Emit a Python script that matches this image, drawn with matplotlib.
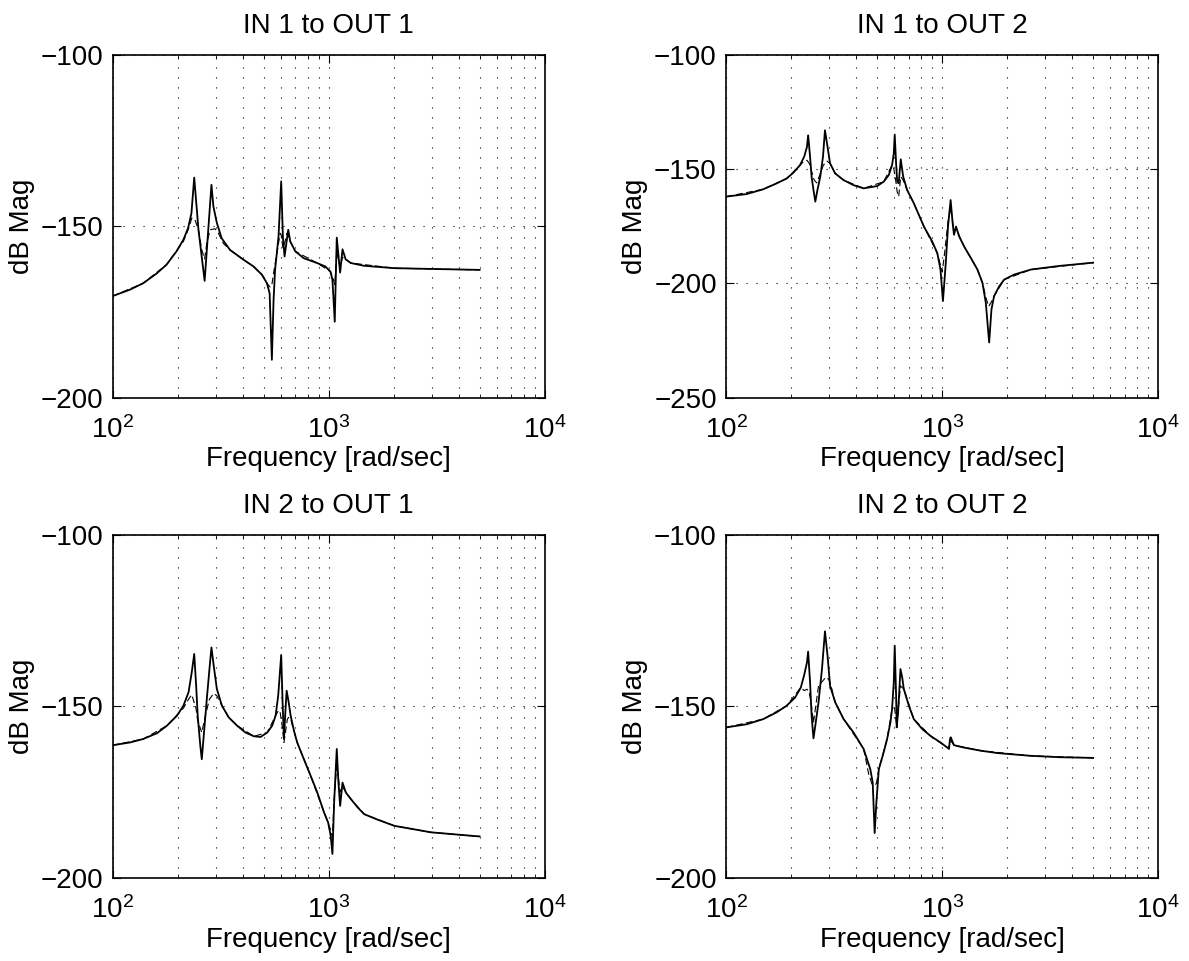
import numpy as np
import matplotlib
matplotlib.use('Agg')
import matplotlib.pyplot as plt
from matplotlib.ticker import LogLocator, NullFormatter, MultipleLocator

plt.rcParams['font.family'] = ['Liberation Sans', 'DejaVu Sans']
plt.rcParams['mathtext.fontset'] = 'custom'
plt.rcParams['mathtext.rm'] = 'Liberation Sans'

# values: frequency [rad/sec] and magnitude [dB]
# IN 1 -> OUT 1
f11 = [100, 119.5, 138, 159, 177, 197, 212, 223, 231, 238, 249, 266, 286, 292, 303, 319, 349, 404, 448, 490,
       517, 532, 545, 555, 564, 585, 602, 613, 624, 649, 663, 700, 766, 883, 964, 1018, 1040, 1066, 1089, 1129,
       1158, 1197, 1266, 1455, 2013, 3428, 5000]
m11 = [-170.3, -168.5, -166.6, -163.8, -161.2, -157.3, -153.9, -150.5, -146.2, -135.8, -151.0, -165.9, -137.9,
       -144.2, -149.0, -153.5, -156.9, -159.8, -161.7, -164.1, -166.6, -169.5, -188.9, -171.4, -162.7, -153.0,
       -136.9, -153.0, -158.8, -151.0, -154.4, -157.3, -159.3, -160.7, -161.7, -163.2, -165.6, -177.8, -153.3,
       -163.5, -156.7, -159.6, -160.7, -161.5, -162.2, -162.5, -162.7]
f11d = [100, 138, 177, 212, 223, 232, 240, 249, 258, 266, 272, 282, 297, 308, 325, 349, 404, 448, 490, 517, 535,
        545, 558, 585, 595, 602, 613, 624, 640, 663, 700, 883, 1018, 1045, 1066, 1089, 1129, 1158, 1266, 2013, 5000]
m11d = [-170.3, -166.6, -161.2, -154.4, -151.0, -147.6, -148.1, -151.0, -156.9, -159.5, -155.0, -151.0, -150.7,
        -152.0, -155.0, -156.9, -159.8, -161.7, -164.1, -166.6, -167.7, -167.0, -162.7, -155.0, -152.0, -152.5,
        -156.3, -155.0, -152.0, -154.4, -157.3, -160.7, -163.2, -165.0, -167.0, -157.5, -162.0, -159.0, -160.7,
        -162.2, -162.7]

# IN 1 -> OUT 2
f12 = [100, 124, 148, 171, 190, 204, 219, 229, 236, 239, 244, 248, 253, 258, 264, 272, 280, 286, 294, 302, 319,
       349, 388, 432, 499, 535, 565, 585, 596, 602, 611, 618, 628, 642, 659, 687, 738, 822, 898, 948, 981, 1007,
       1038, 1063, 1093, 1117, 1133, 1158, 1197, 1262, 1356, 1455, 1535, 1591, 1649, 1690, 1738, 1836, 1935,
       2152, 2576, 3500, 5000]
m12 = [-162.0, -160.9, -158.8, -156.2, -154.1, -151.6, -148.3, -144.6, -140.3, -135.2, -144.6, -153.3, -159.1,
       -164.2, -159.1, -153.3, -144.6, -133.0, -140.3, -147.5, -151.9, -154.8, -157.0, -158.4, -157.4, -155.5,
       -152.6, -148.3, -143.2, -134.9, -147.5, -155.5, -156.2, -145.7, -153.3, -159.1, -164.9, -175.1, -181.6,
       -186.7, -193.9, -207.7, -191.0, -175.1, -163.5, -173.6, -178.7, -175.1, -179.4, -183.8, -188.8, -193.9,
       -199.7, -208.4, -225.8, -211.3, -205.5, -201.2, -198.3, -196.1, -193.9, -192.3, -190.9]
f12d = [100, 148, 190, 219, 227, 236, 242, 248, 255, 262, 272, 281, 292, 302, 319, 349, 432, 535, 585, 596, 611,
        618, 628, 642, 659, 687, 738, 822, 948, 981, 1000, 1030, 1063, 1093, 1133, 1158, 1262, 1455, 1535, 1591,
        1640, 1690, 1738, 1935, 2576, 5000]
m12d = [-162.0, -158.8, -154.1, -148.3, -146.8, -146.1, -147.5, -151.0, -154.8, -156.0, -152.0, -148.3, -146.5,
        -147.5, -151.9, -154.8, -158.4, -155.5, -148.3, -149.7, -156.2, -159.9, -162.0, -153.3, -154.8, -159.1,
        -164.9, -175.1, -186.7, -192.0, -195.0, -185.0, -173.0, -167.0, -177.0, -176.0, -183.8, -193.9, -199.7,
        -206.0, -210.0, -208.0, -205.5, -198.3, -193.9, -190.9]

# IN 2 -> OUT 1
f21 = [100, 120, 138, 160, 178, 198, 212, 224, 232, 238, 243, 247, 254, 258, 265, 273, 280, 286, 293, 303, 320,
       344, 376, 411, 450, 483, 519, 547, 567, 583, 602, 611, 620, 628, 638, 652, 666, 690, 714, 767, 824, 885,
       951, 993, 1021, 1040, 1059, 1089, 1109, 1129, 1158, 1200, 1266, 1360, 1459, 1683, 2013, 2980, 5000]
m21 = [-161.3, -160.5, -159.5, -157.8, -155.6, -152.7, -149.8, -145.9, -139.9, -134.7, -144.0, -152.7, -161.5,
       -165.4, -156.6, -146.9, -139.1, -132.8, -138.1, -144.9, -149.8, -153.2, -155.6, -157.6, -158.7, -158.9,
       -157.6, -155.6, -152.7, -146.9, -135.0, -148.8, -159.5, -152.7, -145.4, -148.8, -152.7, -157.1, -160.5,
       -165.4, -170.2, -175.1, -180.9, -183.8, -187.7, -193.0, -178.0, -162.4, -172.2, -179.0, -172.2, -175.1,
       -177.0, -179.4, -181.4, -183.0, -184.8, -186.7, -187.9]
f21d = [100, 138, 178, 212, 224, 232, 243, 247, 258, 268, 280, 293, 303, 320, 344, 376, 450, 519, 567, 583, 594,
        611, 620, 643, 652, 666, 690, 714, 824, 951, 1021, 1040, 1059, 1089, 1129, 1158, 1266, 1459, 2013, 2980, 5000]
m21d = [-161.3, -159.5, -155.6, -150.5, -147.9, -146.6, -150.8, -154.2, -157.6, -152.7, -147.9, -146.2, -146.9,
        -149.8, -153.2, -155.6, -158.7, -157.6, -152.7, -151.3, -151.3, -156.6, -160.5, -153.7, -153.2, -153.7,
        -157.1, -160.5, -170.2, -180.9, -186.0, -188.0, -177.0, -167.0, -175.0, -173.5, -177.0, -181.4, -184.8,
        -186.7, -187.9]

# IN 2 -> OUT 2
f22 = [100, 124, 148, 171, 190, 208, 221, 229, 236, 239, 244, 248, 253, 258, 267, 277, 286, 294, 302, 319, 349,
       388, 432, 464, 476, 486, 495, 508, 535, 555, 575, 585, 596, 602, 611, 615, 624, 634, 640, 652, 663, 700,
       738, 808, 882, 981, 1055, 1074, 1086, 1094, 1133, 1262, 1507, 1803, 2576, 3500, 5000]
m22 = [-156.1, -155.2, -153.7, -151.7, -149.8, -147.4, -144.5, -140.9, -137.2, -134.0, -143.0, -152.7, -159.3,
       -155.6, -148.8, -139.1, -128.1, -135.2, -144.0, -148.8, -153.7, -157.6, -162.4, -168.3, -172.2, -186.9,
       -178.0, -168.3, -163.4, -159.5, -154.7, -150.8, -143.0, -132.3, -146.9, -156.1, -151.7, -144.0, -139.1,
       -141.5, -144.9, -149.8, -153.7, -156.6, -158.6, -160.5, -162.0, -162.4, -159.5, -159.0, -161.3, -162.0,
       -162.9, -163.6, -164.4, -164.8, -165.0]
f22d = [100, 148, 190, 221, 229, 236, 242, 248, 253, 267, 286, 292, 300, 308, 319, 349, 432, 456, 472, 486, 495,
        508, 555, 585, 596, 602, 615, 624, 634, 640, 663, 738, 882, 1055, 1074, 1094, 1133, 1507, 2576, 5000]
m22d = [-156.1, -153.7, -149.8, -144.5, -145.4, -145.0, -145.9, -150.0, -154.7, -144.0, -141.8, -141.5, -142.5,
        -145.0, -148.8, -153.7, -162.4, -169.7, -172.6, -172.9, -172.5, -168.3, -159.5, -150.8, -150.3, -150.8,
        -156.1, -151.3, -146.9, -144.0, -144.9, -153.7, -158.6, -162.0, -161.8, -160.0, -161.3, -162.9, -164.4,
        -165.0]

titles = ['IN 1 to OUT 1', 'IN 1 to OUT 2', 'IN 2 to OUT 1', 'IN 2 to OUT 2']
ylims = [(-200, -100), (-250, -100), (-200, -100), (-200, -100)]
curves = [(f11, m11, f11d, m11d), (f12, m12, f12d, m12d), (f21, m21, f21d, m21d), (f22, m22, f22d, m22d)]

fig = plt.figure(figsize=(11.89, 9.61), dpi=100)
lefts = [0.095, 0.611, 0.095, 0.611]
bottoms = [0.586, 0.586, 0.0864, 0.0864]
fs = 20
dots = (0, (1, 8))

for i in range(4):
    ax = fig.add_axes([lefts[i], bottoms[i], 0.363, 0.357])
    f, m, fd, md = curves[i]
    ax.semilogx(fd, md, color='black', lw=0.8, ls=(0, (6, 3)))
    ax.semilogx(f, m, color='black', lw=1.3)
    ax.set_xlim(100, 10000)
    ax.set_ylim(*ylims[i])
    ax.yaxis.set_major_locator(MultipleLocator(50))
    ax.xaxis.set_major_locator(LogLocator(base=10, numticks=10))
    ax.xaxis.set_minor_locator(LogLocator(base=10, subs=np.arange(2, 10), numticks=20))
    ax.xaxis.set_minor_formatter(NullFormatter())
    ax.grid(True, which='major', axis='both', color='black', ls=dots, lw=0.8)
    ax.grid(True, which='minor', axis='x', color='black', ls=dots, lw=0.8)
    ax.tick_params(which='both', direction='in', top=True, right=True, labelsize=fs)
    ax.tick_params(axis='x', which='major', pad=13)
    ax.tick_params(axis='y', which='major', pad=7)
    ax.tick_params(which='major', length=6)
    ax.tick_params(which='minor', length=3)
    for s in ax.spines.values():
        s.set_linewidth(1.2)
    ax.set_title(titles[i], fontsize=fs, pad=16)
    ax.set_xlabel('Frequency [rad/sec]', fontsize=fs, labelpad=2)
    ax.set_ylabel('dB Mag', fontsize=fs, labelpad=4)

fig.savefig('out.png', dpi=100)
